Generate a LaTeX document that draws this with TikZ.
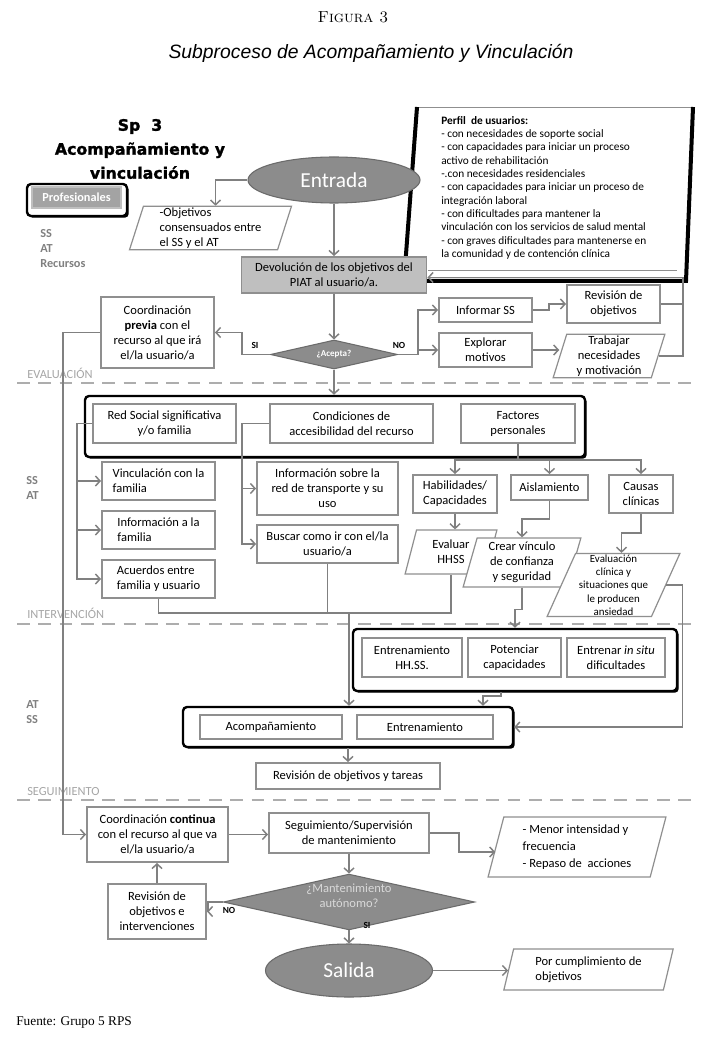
\documentclass[tikz,border=0pt]{standalone}
\usepackage{fontspec}
\usepackage{tikz}
\usetikzlibrary{arrows.meta,positioning,shapes.geometric,shadows,calc}

\newfontfamily\cali{Carlito}
\newfontfamily\heavy{DejaVu Sans}[BoldFeatures={FakeBold=1.5}]
\newfontfamily\helv{Liberation Sans}
\newfontfamily\timesf{Liberation Serif}

\definecolor{boxgray}{gray}{0.56}
\definecolor{linegray}{gray}{0.5}
\definecolor{shapegray}{gray}{0.55}
\definecolor{shapeedge}{gray}{0.42}
\definecolor{devgray}{gray}{0.75}
\definecolor{dashgray}{gray}{0.68}
\definecolor{labelgray}{gray}{0.65}
\definecolor{sidegray}{gray}{0.5}
\definecolor{profgray}{gray}{0.64}

\tikzset{
  box/.style={draw=boxgray, line width=1.4pt, fill=white, align=center,
    inner sep=1pt, font=\cali\fontsize{9.4}{11.25}\selectfont},
  lbox/.style={box, align=left},
  para/.style={trapezium, trapezium left angle=76, trapezium right angle=104,
    trapezium stretches=true, draw=boxgray, line width=0.9pt, fill=white,
    align=center, inner sep=1pt, font=\cali\fontsize{9.4}{11.25}\selectfont},
  start/.style={ellipse, fill=shapegray, draw=shapeedge, line width=0.8pt,
    text=white, inner sep=0pt, font=\cali\fontsize{16}{18}\selectfont},
  decision/.style={diamond, fill=shapegray, draw=shapeedge, line width=0.8pt,
    inner sep=0pt, align=center},
  group/.style={draw=black, line width=1.8pt, rounded corners=3pt, fill=white,
    drop shadow={shadow xshift=1.3pt, shadow yshift=-1.3pt, fill=black, opacity=1}},
  conn/.style={color=linegray, line width=1.1pt},
  flag/.style={font=\cali\bfseries\fontsize{7}{8}\selectfont, inner sep=0pt},
  phase/.style={font=\cali\fontsize{9.3}{10}\selectfont, text=labelgray,
    anchor=south west, inner sep=0pt},
  side/.style={font=\cali\bfseries\fontsize{9.2}{11.25}\selectfont, text=sidegray,
    align=left, anchor=north west, inner sep=0pt},
  sep/.style={draw=dashgray, line width=1.6pt, dash pattern=on 9.5pt off 6.5pt}
}

\begin{document}
\begin{tikzpicture}[x=0.75pt, y=-0.75pt, >={Straight Barb[length=3.5pt,width=7.5pt]}]

\useasboundingbox[fill=white] (0,0) rectangle (720,1044);

% titles
\node (figura) at (353,17) {\fontsize{12}{14}\selectfont\textsc{Figura 3}};
\node (subtitulo) at (371,53) {\helv\itshape\fontsize{14.5}{17}\selectfont Subproceso de Acompañamiento y Vinculación};
\node[anchor=west, inner sep=0pt] (fuente) at (16,1022) {\timesf\fontsize{10}{12}\selectfont Fuente: Grupo 5 RPS};

% phases
\draw[sep] (17,383) -- (697,383);
\draw[sep] (17,624) -- (697,624);
\draw[sep] (17,800) -- (697,800);
\node[phase] (evaluacion) at (27,379) {EVALUACIÓN};
\node[phase] (intervencion) at (27,619) {INTERVENCIÓN};
\node[phase] (seguim) at (27,796) {SEGUIMIENTO};
\node[side] (prof1) at (40,229) {SS\\AT\\Recursos};
\node[side] (prof2) at (26,476) {SS\\AT};
\node[side] (prof3) at (26,700) {AT\\SS};

% perfil de usuarios
\fill[white] (417,107) -- (404,281) -- (686,281) -- (693,107) -- cycle;
\draw[boxgray, line width=0.6pt] (417,107) -- (693,107);
\draw[boxgray, line width=0.6pt] (428,270) -- (677,270);
\draw[black, line width=3pt] (417,107) -- (404,281) -- (686,281) -- (693,107);
\node[anchor=north west, align=left, inner sep=0pt, font=\cali\fontsize{8.5}{10}\selectfont] (perfil) at (441,116)
  {\textbf{Perfil\ \ de usuarios:}\\
   - con necesidades de soporte social\\
   - con capacidades para iniciar un proceso\\
   activo de rehabilitación\\
   -.con necesidades residenciales\\
   - con capacidades para iniciar un proceso de\\
   integración laboral\\
   - con dificultades para mantener la\\
   vinculación con los servicios de salud mental\\
   - con graves dificultades para mantenerse en\\
   la comunidad y de contención clínica};

% heading
\node[align=center, font=\heavy\bfseries\fontsize{11.8}{18}\selectfont] (sp) at (140,149) {Sp\ \ 3\\Acompañamiento y\\vinculación};
\path
  node[group, minimum width=75pt, minimum height=24pt] (profframe) at (77,200) {}
  node[draw=profgray!70, line width=1.2pt, fill=profgray, text=white, minimum width=66.75pt, minimum height=15.75pt,
    inner sep=0pt, font=\cali\bfseries\fontsize{9.2}{10}\selectfont] (prof) at (76.5,197.5) {Profesionales}
;

% entrada
\path
  node[start, minimum width=129pt, minimum height=34.5pt] (entrada) at (334,180) {Entrada}
  node[para, minimum width=122.25pt, minimum height=31.5pt, align=left] (objetivos) at (210.5,228) {-Objetivos\\consensuados entre\\el SS y el AT}
  node[box, fill=devgray, minimum width=138.75pt, minimum height=27pt] (devolucion) at (334,275) {Devolución de los objetivos del\\PIAT al usuario/a.}
  node[decision, aspect=4.4, minimum width=95.25pt, minimum height=21.75pt, text=white,
    font=\cali\bfseries\fontsize{6.8}{7}\selectfont] (acepta) at (334,354.5) {¿Acepta?}
  node[box, minimum width=84.75pt, minimum height=53.25pt] (coordprevia) at (157.5,332.5) {Coordinación\\\textbf{previa} con el\\recurso al que irá\\el/la usuario/a}
  node[box, minimum width=69.75pt, minimum height=18pt] (informar) at (485.5,310) {Informar SS}
  node[box, minimum width=69.75pt, minimum height=28.5pt] (revision) at (613.5,304) {Revisión de\\objetivos}
  node[box, minimum width=69.75pt, minimum height=25.5pt] (explorar) at (485.5,350) {Explorar\\motivos}
  node[para, minimum width=84pt, minimum height=31.5pt] (trabajar) at (609,356) {Trabajar\\necesidades\\y motivación}
  node[flag] (si1) at (255,345) {SI}
  node[flag] (no1) at (399,345) {NO}
;

% evaluacion
\path
  node[group, minimum width=375pt, minimum height=45.75pt] (evalgroup) at (335,426.5) {}
  node[box, minimum width=107.25pt, minimum height=29.25pt] (redsocial) at (164.5,423.5) {Red Social significativa\\y/o familia}
  node[box, minimum width=122.25pt, minimum height=29.25pt] (condiciones) at (351.5,423.5) {Condiciones de\\accesibilidad del recurso}
  node[box, minimum width=85.5pt, minimum height=29.25pt] (factores) at (518,423.5) {Factores\\personales}
  node[lbox, minimum width=84.75pt, minimum height=28.5pt] (vinculacion) at (158.5,481) {Vinculación con la\\familia}
  node[lbox, minimum width=84.75pt, minimum height=28.5pt] (infofamilia) at (158.5,530) {Información a la\\familia}
  node[lbox, minimum width=84.75pt, minimum height=28.5pt] (acuerdos) at (158.5,579) {Acuerdos entre\\familia y usuario}
  node[box, minimum width=105.75pt, minimum height=39.75pt] (infored) at (327.5,488.5) {Información sobre la\\red de transporte y su\\uso}
  node[box, minimum width=105.75pt, minimum height=28.5pt] (buscar) at (327.5,544) {Buscar como ir con el/la\\usuario/a}
  node[box, minimum width=63pt, minimum height=28.5pt] (habilidades) at (455,494) {Habilidades/\\Capacidades}
  node[box, minimum width=57.75pt, minimum height=18.75pt] (aislamiento) at (549.5,487.5) {Aislamiento}
  node[box, minimum width=48pt, minimum height=28.5pt] (causas) at (641,494) {Causas\\clínicas}
  node[para, minimum width=69pt, minimum height=33pt] (evalhhss) at (451,552) {Evaluar\\HHSS}
  node[para, minimum width=88.5pt, minimum height=36.75pt] (vinculo) at (522,562.5) {Crear vínculo\\de confianza\\y seguridad}
  node[para, trapezium left angle=67, trapezium right angle=113, minimum width=99.75pt, minimum height=47.25pt,
    inner sep=0pt, font=\cali\fontsize{8.2}{10}\selectfont] (evalclinica) at (613.5,585)
    {Evaluación\\clínica y\\situaciones que\\le producen\\ansiedad}
;
\coordinate (j1) at (349,613);

% intervencion
\path
  node[group, minimum width=243pt, minimum height=46.5pt] (intgroup) at (515,660) {}
  node[box, minimum width=75pt, minimum height=29.25pt] (enthhss) at (412,657.5) {Entrenamiento\\HH.SS.}
  node[box, minimum width=69.75pt, minimum height=29.25pt] (potenciar) at (514.5,657.5) {Potenciar\\capacidades}
  node[box, minimum width=73.5pt, minimum height=29.25pt] (insitu) at (616,657.5) {Entrenar \textit{in situ}\\dificultades}
  node[group, minimum width=247.5pt, minimum height=30pt] (acompgroup) at (348,727) {}
  node[box, minimum width=106.5pt, minimum height=18pt] (acompanamiento) at (271,727) {Acompañamiento}
  node[box, minimum width=102pt, minimum height=18pt] (entrenamiento) at (425,727) {Entrenamiento}
  node[box, minimum width=138pt, minimum height=19.5pt] (revtareas) at (348,776) {Revisión de objetivos y tareas}
;

% seguimiento
\path
  node[box, minimum width=105.75pt, minimum height=41.25pt] (coordcont) at (157.5,834.5) {Coordinación \textbf{continua}\\con el recurso al que va\\el/la usuario/a}
  node[box, minimum width=120pt, minimum height=30pt] (seguimiento) at (349,833) {Seguimiento/Supervisión\\de mantenimiento}
  node[para, minimum width=133.5pt, minimum height=45pt, align=left, font=\cali\fontsize{9.4}{13}\selectfont] (menor) at (577,847)
    {- Menor intensidad y\\frecuencia\\- Repaso de\ \ acciones}
  node[decision, aspect=4.5, minimum width=170.25pt, minimum height=37.5pt, text=white!85!black,
    text depth=10pt, font=\cali\fontsize{9.4}{11.25}\selectfont] (mant) at (349,902) {¿Mantenimiento\\autónomo?}
  node[box, minimum width=73.5pt, minimum height=41.25pt] (revinterv) at (157,911.5) {Revisión de\\objetivos e\\intervenciones}
  node[start, minimum width=125.25pt, minimum height=39.75pt] (salida) at (349,970.5) {Salida}
  node[para, minimum width=127.5pt, minimum height=30.75pt, align=left] (cumplimiento) at (588.5,969.5) {Por cumplimiento de\\objetivos}
  node[flag] (no2) at (229,910) {NO}
  node[flag] (si2) at (367,925) {SI}
;

% connectors
\path[->, conn]
  (entrada.south) edge (entrada.south |- devolucion.north)
  (devolucion.south) edge (devolucion.south |- acepta.north)
  (acepta.south) edge (acepta.south |- evalgroup.north)
  (acompgroup.south) edge (acompgroup.south |- revtareas.north)
  (seguimiento.south) edge (seguimiento.south |- mant.north)
  (mant.south) edge (mant.south |- salida.north)
  (revinterv.north) edge (revinterv.north |- coordcont.south)
  (salida.east) edge (salida.east -| cumplimiento.west)
;
\draw[->, conn] (entrada.west) -| ($(objetivos.north)+(5,0)$);
\draw[->, conn] (acepta.west) -- ++(-28,0) |- (coordprevia.east);
\draw[->, conn] (acepta.east) -- ++(20,0) |- (informar.west);
\draw[->, conn] (acepta.east) -- ++(20,0) |- (explorar.west);
\draw[->, conn] (informar.east) -- ++(16,0) |- (revision.west);
\draw[->, conn] (explorar.east) -- (explorar.east -| trabajar.west);
\draw[conn] (trabajar.east) -| ($(revision.east)+(22,0)$);
\draw[->, conn] (revision.east) -- ++(22,0) |- ($(devolucion.east)+(0,2.5)$);
\draw[->, conn] (coordprevia.west) -- ++(-37,0) |- (coordcont.west);

\draw[->, conn] (redsocial.west) -- ++(-15,0) |- (vinculacion.west);
\draw[->, conn] (redsocial.west) -- ++(-15,0) |- (infofamilia.west);
\draw[->, conn] (redsocial.west) -- ++(-15,0) |- (acuerdos.west);
\draw[->, conn] (condiciones.west) -- ++(-27,0) |- (infored.west);
\draw[->, conn] (condiciones.west) -- ++(-27,0) |- (buscar.west);
\draw[->, conn] (factores.south) -- ++(0,16) -| (habilidades.north);
\draw[->, conn] (factores.south) -- ++(0,16) -| (aislamiento.north);
\draw[->, conn] (factores.south) -- ++(0,16) -| (causas.north);
\draw[->, conn] (habilidades.south) -- (habilidades.south |- evalhhss.north);
\draw[->, conn] (aislamiento.south) -- ++(0,18) -| (vinculo.north);
\draw[->, conn] (causas.south) -- ++(0,19) -| ($(evalclinica.north)+(8,0)$);

\draw[conn] (acuerdos.south) |- (evalhhss.south |- j1) -- (evalhhss.south);
\draw[conn] (buscar.south) -- (buscar.south |- j1);
\draw[->, conn] (j1) -- (j1 |- acompgroup.north);
\draw[->, conn] (vinculo.south) -- ++(0,22) -| (intgroup.north);
\draw[->, conn] ($(intgroup.south)+(-14,0)$) -- ++(0,4) -| ($(acompgroup.north)+(135,0)$);
\draw[->, conn] (evalclinica.east) -- ++(16,0) |- (acompgroup.east);

\draw[->, conn] (coordcont.east) -- (coordcont.east -| seguimiento.west);
\draw[->, conn] (seguimiento.east) -- ++(29,0) |- ($(menor.west)+(0,5)$);
\draw[->, conn] (mant.west) -- ++(-15,0) |- (revinterv.east);
\end{tikzpicture}
\end{document}
